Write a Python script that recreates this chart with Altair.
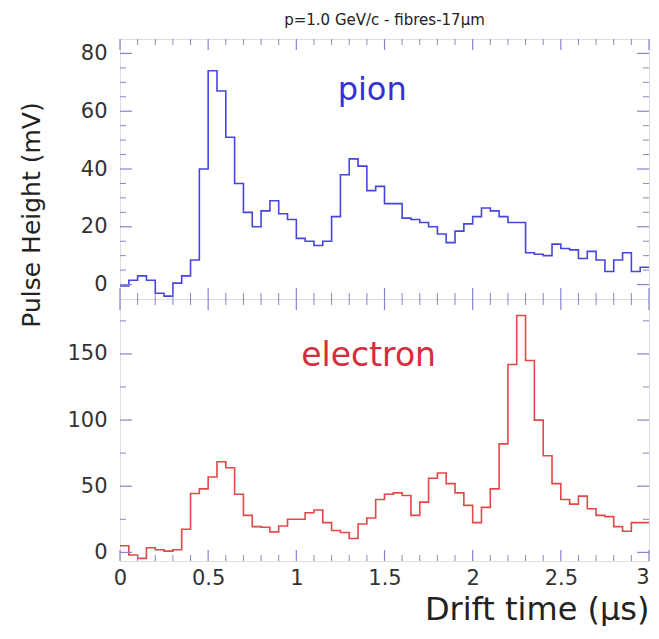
import altair as alt
import pandas as pd

# ---------------- data ----------------
bin_width = 0.05
pion = [-0.5, 1.5, 3, 1.5, -3, -4, 0.5, 3, 8.5, 40,
        74, 67, 51, 35, 25, 20, 25.5, 29, 24.5, 22.5,
        16, 15, 13.5, 15, 23.5, 38, 43.5, 41, 32.5, 34,
        28, 28, 23, 22.5, 21.5, 20, 17.5, 14.5, 18.5, 21,
        23.5, 26.5, 25.5, 23.5, 21.5, 21.5, 11, 10.5, 10, 14,
        12.5, 12, 9, 11.5, 8.5, 4.5, 8.5, 11, 4.5, 6]
electron = [5, -2, -4.5, 3.5, 2, 1, 2, 17.5, 44.5, 48,
            57, 68.5, 64, 44, 28, 19.5, 19, 15.5, 20, 25,
            25, 30, 32, 22.5, 16.5, 15, 10.5, 21.5, 26, 40,
            44, 45, 43, 28, 38, 56, 60, 52, 45, 35.5,
            22.5, 34, 48, 82, 142, 179, 145, 100, 73, 52,
            40, 36.5, 42.5, 33, 28, 27, 19.5, 16, 22.5, 22.5]

x_major = [0, 0.5, 1, 1.5, 2, 2.5, 3]
x_labels_axis = [0, 0.5, 1, 1.5, 2, 2.5]   # drawn by the axis
x_labels_edge = [3]                         # last label, nudged inside the page
x_minor = [0.1, 0.2, 0.3, 0.4, 0.6, 0.7, 0.8, 0.9, 1.1, 1.2, 1.3, 1.4,
           1.6, 1.7, 1.8, 1.9, 2.1, 2.2, 2.3, 2.4, 2.6, 2.7, 2.8, 2.9]
pion_major = [0, 20, 40, 60, 80]
pion_minor = [5, 10, 15, 25, 30, 35, 45, 50, 55, 65, 70, 75]
elec_major = [0, 50, 100, 150]
elec_minor = [25, 75, 125, 175]

title_text = "p=1.0 GeV/c - fibres-17µm"
x_title = "Drift time (µs)"
y_title = "Pulse Height (mV)"

# ---------------- styling ----------------
FONT = "DejaVu Sans"
W = 529
H1 = 260
H2 = 262
FRAME = "#5a5acc"
TICK = "#8484d0"
PION_C = "#4646dc"
ELEC_C = "#e24848"
LABEL_C = "#333333"


def step_df(values):
    edges = [round(i * bin_width, 3) for i in range(len(values) + 1)]
    return pd.DataFrame({"t": edges, "v": list(values) + [values[-1]]})


def panel(values, color, ydom, H, ymaj, ymin, label, label_x, label_y,
          label_color, label_size, bottom):
    xs = alt.Scale(domain=[0, 3], nice=False, zero=False)
    ys = alt.Scale(domain=ydom, nice=False, zero=False)
    if bottom:
        xaxis = alt.Axis(values=x_labels_axis, format="~g", labelFlush=False,
                         ticks=False, domain=False, grid=False,
                         labelFont=FONT, labelFontSize=21, labelColor=LABEL_C,
                         labelPadding=6, title=x_title, titleFont=FONT,
                         titleFontSize=32, titleFontWeight="normal",
                         titleColor="#222222", titleX=W, titleY=58,
                         titleAlign="right", titleBaseline="alphabetic")
    else:
        xaxis = None
    yaxis = alt.Axis(values=ymaj, ticks=False, domain=False, grid=False,
                     labelFont=FONT, labelFontSize=21, labelColor=LABEL_C,
                     labelPadding=13, title=None)
    X = alt.X("t:Q", scale=xs, axis=xaxis)
    Y = alt.Y("v:Q", scale=ys, axis=yaxis)

    layers = []
    layers.append(alt.Chart(step_df(values)).mark_line(
        interpolate="step-after", color=color, strokeWidth=1.6).encode(x=X, y=Y))

    def xt(vals, y0, y1, w):
        return alt.Chart(pd.DataFrame({"t": vals})).mark_rule(
            color=TICK, strokeWidth=w).encode(x=X, y=alt.value(y0), y2=alt.value(y1))

    def yt(vals, x0, x1, w):
        return alt.Chart(pd.DataFrame({"v": vals})).mark_rule(
            color=TICK, strokeWidth=w).encode(y=Y, x=alt.value(x0), x2=alt.value(x1))

    layers += [xt(x_major, 0, 11, 1.2), xt(x_minor, 0, 6, 1),
               xt(x_major, H, H - 11, 1.2), xt(x_minor, H, H - 6, 1),
               yt(ymaj, 0, 12, 1.2), yt(ymin, 0, 6, 1),
               yt(ymaj, W, W - 12, 1.2), yt(ymin, W, W - 6, 1)]

    layers.append(alt.Chart(pd.DataFrame({"label": [label]})).mark_text(
        font=FONT, fontSize=label_size, color=label_color, align="center",
        baseline="alphabetic").encode(
        x=alt.X(datum=label_x, scale=xs, axis=xaxis),
        y=alt.Y(datum=label_y, scale=ys, axis=yaxis), text="label:N"))

    if bottom:
        layers.append(alt.Chart(pd.DataFrame({"t": x_labels_edge})).mark_text(
            font=FONT, fontSize=21, color=LABEL_C, align="center",
            baseline="top", dx=-6).encode(
            x=X, y=alt.value(H + 6), text=alt.Text("t:Q", format="~g")))
    else:
        layers.append(alt.Chart(pd.DataFrame({"label": [y_title]})).mark_text(
            font=FONT, fontSize=25, color="#222222", angle=270, align="center",
            baseline="middle").encode(
            x=alt.value(33 - 121), y=alt.value(216 - 40), text="label:N"))

    return alt.layer(*layers).properties(width=W, height=H)


top = panel(pion, PION_C, [-5, 85], H1, pion_major, pion_minor,
            "pion", 1.43, 64, "#3232d2", 32, False).properties(
    title=alt.Title(title_text, font=FONT, fontSize=15, fontWeight="normal",
                    color="#222222", anchor="middle", frame="group", offset=10))
bot = panel(electron, ELEC_C, [-6.5, 191.5], H2, elec_major, elec_minor,
            "electron", 1.41, 141, "#d42e3c", 33, True)

chart = alt.vconcat(top, bot, spacing=0, bounds="flush").properties(
    padding={"left": 11, "top": 4, "right": -2, "bottom": 0}
).configure_view(stroke=FRAME, strokeWidth=1.5).configure(background="white")

chart.save("out.html", embed_options={"renderer": "svg", "actions": False})
